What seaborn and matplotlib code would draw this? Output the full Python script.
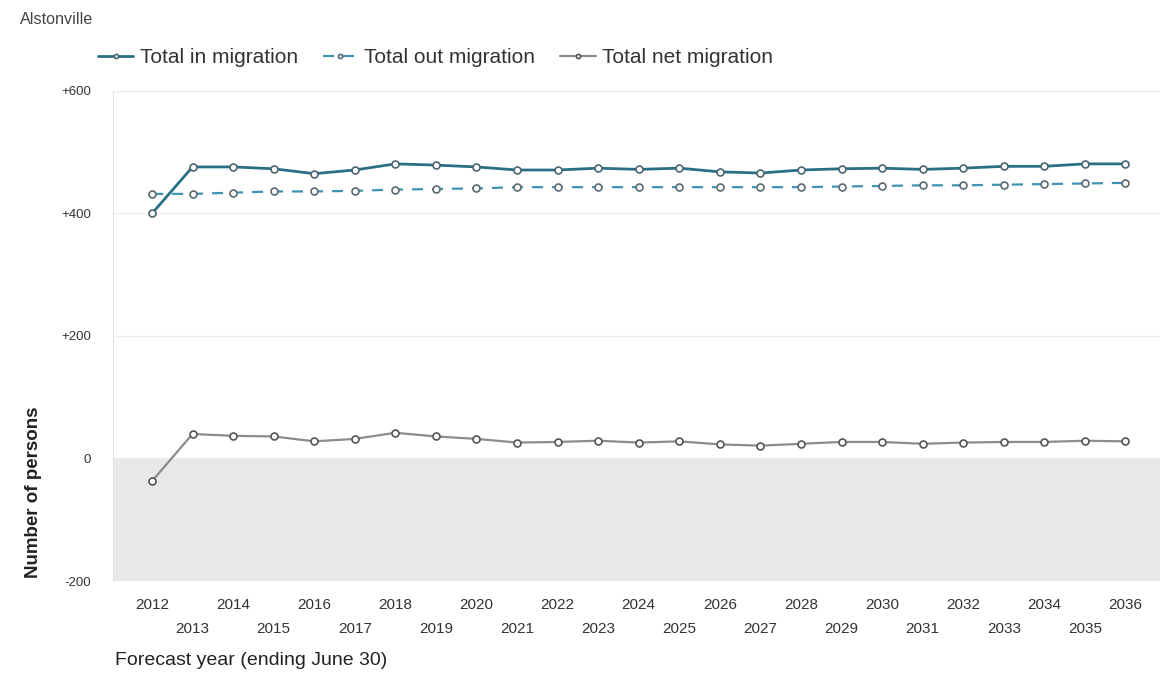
import pandas as pd
import matplotlib.pyplot as plt
import seaborn as sns

# data
years = list(range(2012, 2037))
in_migration = [400, 476, 476, 473, 465, 471, 481, 479, 476, 471, 471, 474, 472,
                474, 468, 466, 471, 473, 474, 472, 474, 477, 477, 481, 481]
out_migration = [432, 432, 434, 436, 436, 437, 439, 440, 441, 443, 443, 443, 443,
                 443, 443, 443, 443, 444, 445, 446, 446, 447, 448, 449, 450]
net_migration = [-37, 40, 37, 36, 28, 32, 42, 36, 32, 26, 27, 29, 26,
                 28, 23, 21, 24, 27, 27, 24, 26, 27, 27, 29, 28]

df = pd.DataFrame({'year': years, 'in': in_migration,
                   'out': out_migration, 'net': net_migration})

sns.set_style("white")
plt.rcParams['font.family'] = ['Liberation Sans', 'DejaVu Sans']

fig = plt.figure(figsize=(11.63, 6.77), dpi=100)
ax = fig.add_axes([0.0972, 0.1418, 0.8998, 0.7238])

# shaded negative zone
ax.axhspan(-200, 0, color='#e8e8e8', zorder=0, lw=0)

sns.lineplot(data=df, x='year', y='in', ax=ax, color='#2b6f86', lw=2,
             marker='o', markersize=5, markerfacecolor='white',
             markeredgecolor='#4a6670', markeredgewidth=1.2,
             label='Total in migration', zorder=4)
sns.lineplot(data=df, x='year', y='out', ax=ax, color='#3f93b3', lw=1.6,
             linestyle=(0, (5, 4)), marker='o', markersize=5,
             markerfacecolor='white', markeredgecolor='#5a6a70',
             markeredgewidth=1.2, label='Total out migration', zorder=3)
sns.lineplot(data=df, x='year', y='net', ax=ax, color='#8c8c8c', lw=1.6,
             marker='o', markersize=5, markerfacecolor='white',
             markeredgecolor='#555555', markeredgewidth=1.2,
             label='Total net migration', zorder=3)

ax.set_xlim(2011.04, 2036.84)
ax.set_ylim(-200, 600)
ax.set_yticks([-200, 0, 200, 400, 600])
ax.set_yticklabels(['-200', '0', '+200', '+400', '+600'], fontsize=9.5, color='#333333')
ax.yaxis.grid(True, color='#eeeeee', lw=1)
ax.set_axisbelow(True)

# alternate the year labels over two rows
xlabels = [str(y) if y % 2 == 0 else '\n' + str(y) for y in years]
ax.set_xticks(years)
ax.set_xticklabels(xlabels, fontsize=11, color='#333333', linespacing=1.9)
ax.tick_params(axis='y', length=0, pad=16)
ax.tick_params(axis='x', length=0, pad=12)

for s in ['top', 'right', 'bottom']:
    ax.spines[s].set_visible(False)
ax.spines['left'].set_color('#e2e2e2')

ax.set_xlabel('')
ax.set_ylabel('')
fig.text(0.0285, 0.273, 'Number of persons', rotation=90, fontsize=13.5,
         fontweight='bold', ha='center', va='center', color='#222222')
fig.text(0.099, 0.025, 'Forecast year (ending June 30)', fontsize=14,
         ha='left', va='center', color='#222222')
fig.text(0.017, 0.971, 'Alstonville', fontsize=11.6, ha='left', va='center',
         color='#444444')

ax.legend_.remove()
handles, labels = ax.get_legend_handles_labels()
fig.legend(handles, labels, loc='center left', bbox_to_anchor=(0.068, 0.915),
           ncol=3, frameon=False, fontsize=15, handlelength=1.7,
           columnspacing=1.2, handletextpad=0.3, markerscale=0.6,
           labelcolor='#333333')

plt.savefig('out.png', dpi=100)
